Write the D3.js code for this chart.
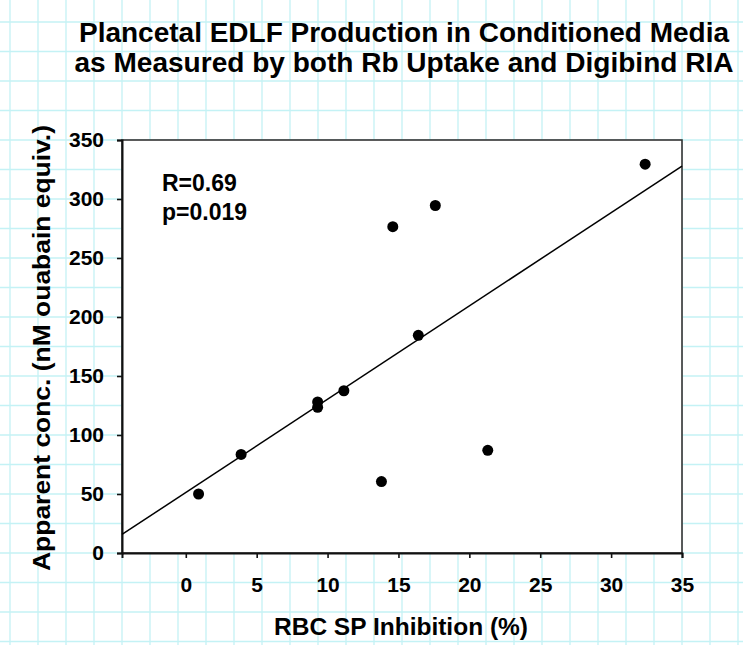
<!DOCTYPE html>
<html>
<head>
<meta charset="utf-8">
<script src="https://cdn.jsdelivr.net/npm/d3@7"></script>
<style>
  html, body { margin: 0; padding: 0; background: #fff; }
  svg { display: block; font-family: "Liberation Sans", Arial, sans-serif; }
</style>
</head>
<body>
<svg id="chart" width="743" height="645"></svg>
<script>
// RBC sodium-pump inhibition (%) vs apparent concentration (nM ouabain equivalents)
const inhibition = [0.9, 3.9, 9.3, 9.3, 11.15, 13.8, 14.6, 16.4, 17.6, 21.3, 32.4];
const apparentConc = [50, 83.5, 128, 123.5, 137.5, 60.5, 276.5, 184.5, 294.5, 87, 329.5];

const xTicks = [0, 5, 10, 15, 20, 25, 30, 35];
const yTicks = [0, 50, 100, 150, 200, 250, 300, 350];

const titleLines = [
  "Plancetal EDLF Production in Conditioned Media",
  "as Measured by both Rb Uptake and Digibind RIA"
];
const statsLines = ["R=0.69", "p=0.019"];

const W = 743, H = 645;
const margin = { left: 122, right: 61, top: 140, bottom: 92 };
const plotW = W - margin.left - margin.right;   // 560
const plotH = H - margin.top - margin.bottom;   // 413

const svg = d3.select("#chart");

// light graph-paper background, cells aligned with the plot frame
const cellW = plotW / 20, cellH = plotH / 14;
const grid = svg.append("g").attr("stroke", "#c4f2f5").attr("stroke-width", 1.3);
for (let x = margin.left - Math.floor(margin.left / cellW) * cellW; x < W; x += cellW) {
  grid.append("line").attr("x1", x).attr("x2", x).attr("y1", 0).attr("y2", H);
}
for (let y = margin.top - Math.floor(margin.top / cellH) * cellH; y < H; y += cellH) {
  grid.append("line").attr("x1", 0).attr("x2", W).attr("y1", y).attr("y2", y);
}

const x = d3.scaleLinear().domain([-4.5, 35]).range([margin.left, margin.left + plotW]);
const y = d3.scaleLinear().domain([0, 350]).range([margin.top + plotH, margin.top]);

// plot area
svg.append("rect")
  .attr("x", margin.left).attr("y", margin.top)
  .attr("width", plotW).attr("height", plotH)
  .attr("fill", "#fff").attr("stroke", "#333").attr("stroke-width", 1.6);

// axes
const xAxis = svg.append("g")
  .attr("transform", `translate(0,${margin.top + plotH})`)
  .call(d3.axisBottom(x).tickValues(xTicks).tickFormat(d3.format("d")).tickSizeOuter(0).tickSize(5).tickPadding(19));
const yAxis = svg.append("g")
  .attr("transform", `translate(${margin.left},0)`)
  .call(d3.axisLeft(y).tickValues(yTicks).tickFormat(d3.format("d")).tickSizeOuter(0).tickSize(5).tickPadding(13));

[xAxis, yAxis].forEach(g => {
  g.select(".domain").attr("stroke", "#111").attr("stroke-width", 2);
  g.selectAll(".tick line").attr("stroke", "#111").attr("stroke-width", 1.6);
  g.selectAll(".tick text")
    .attr("fill", "#000")
    .style("font-size", "21px")
    .style("font-weight", "bold")
    .style("font-family", "'Liberation Sans', Arial, sans-serif");
});

// least-squares regression line across the full x range
const mx = d3.mean(inhibition), my = d3.mean(apparentConc);
const sxy = d3.sum(inhibition, (v, i) => (v - mx) * (apparentConc[i] - my));
const sxx = d3.sum(inhibition, v => (v - mx) * (v - mx));
const slope = sxy / sxx, intercept = my - slope * mx;
const [x0, x1] = x.domain();
svg.append("line")
  .attr("x1", x(x0)).attr("y1", y(intercept + slope * x0))
  .attr("x2", x(x1)).attr("y2", y(intercept + slope * x1))
  .attr("stroke", "#000").attr("stroke-width", 1.5);

// data points
svg.append("g").selectAll("circle")
  .data(inhibition.map((v, i) => [v, apparentConc[i]]))
  .join("circle")
  .attr("cx", d => x(d[0]))
  .attr("cy", d => y(d[1]))
  .attr("r", 5.5)
  .attr("fill", "#000");

// correlation statistics
svg.append("g").selectAll("text")
  .data(statsLines)
  .join("text")
  .attr("x", 162)
  .attr("y", (d, i) => 191 + i * 29)
  .attr("fill", "#000")
  .style("font-size", "23px")
  .style("font-weight", "bold")
  .text(d => d);

// title
const titleWidths = [650, 659];
svg.append("g").selectAll("text")
  .data(titleLines)
  .join("text")
  .attr("x", 404)
  .attr("y", (d, i) => 42 + i * 30)
  .attr("text-anchor", "middle")
  .attr("textLength", (d, i) => titleWidths[i])
  .attr("lengthAdjust", "spacingAndGlyphs")
  .attr("fill", "#000")
  .style("font-size", "27px")
  .style("font-weight", "bold")
  .text(d => d);

// axis titles
svg.append("text")
  .attr("x", 401).attr("y", 635)
  .attr("text-anchor", "middle")
  .attr("textLength", 254)
  .attr("lengthAdjust", "spacingAndGlyphs")
  .attr("fill", "#000")
  .style("font-size", "24px")
  .style("font-weight", "bold")
  .text("RBC SP Inhibition (%)");

svg.append("text")
  .attr("transform", "translate(50,348) rotate(-90)")
  .attr("text-anchor", "middle")
  .attr("textLength", 446)
  .attr("lengthAdjust", "spacingAndGlyphs")
  .attr("fill", "#000")
  .style("font-size", "24px")
  .style("font-weight", "bold")
  .text("Apparent conc. (nM ouabain equiv.)");
</script>
</body>
</html>
